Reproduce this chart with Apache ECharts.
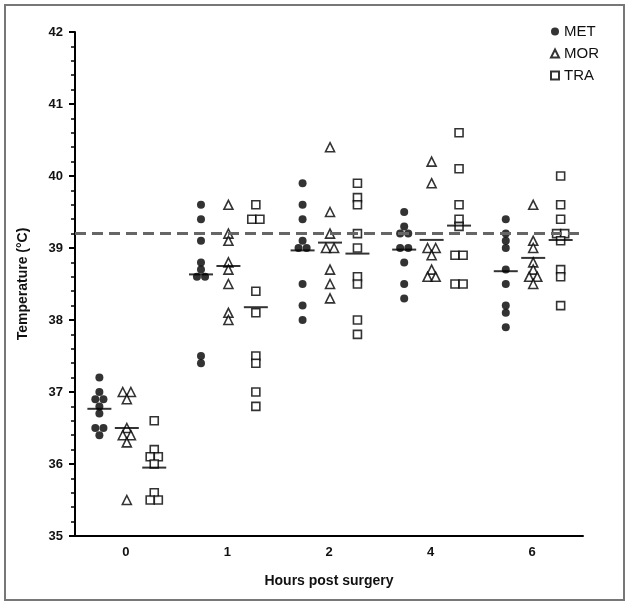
<!DOCTYPE html>
<html><head><meta charset="utf-8">
<script src="https://cdn.jsdelivr.net/npm/echarts@6/dist/echarts.min.js"></script>
<style>html,body{margin:0;padding:0;background:#fff}#c{width:629px;height:605px}</style>
</head><body><div id="c"></div><script>
const categories = ['0', '1', '2', '4', '6'];
const MET = [
  [37.2, 37.0, 36.9, 36.9, 36.8, 36.7, 36.5, 36.5, 36.4],
  [39.6, 39.4, 39.1, 38.8, 38.7, 38.6, 38.6, 37.5, 37.4],
  [39.9, 39.6, 39.4, 39.1, 39.0, 39.0, 38.5, 38.2, 38.0],
  [39.5, 39.3, 39.2, 39.2, 39.0, 39.0, 38.8, 38.5, 38.3],
  [39.4, 39.2, 39.1, 39.0, 38.7, 38.5, 38.2, 38.1, 37.9]
];
const MOR = [
  [37.0, 37.0, 36.9, 36.5, 36.4, 36.4, 36.3, 35.5],
  [39.6, 39.2, 39.1, 38.8, 38.7, 38.5, 38.1, 38.0],
  [40.4, 39.5, 39.2, 39.0, 39.0, 38.7, 38.5, 38.3],
  [40.2, 39.9, 39.0, 39.0, 38.9, 38.7, 38.6, 38.6],
  [39.6, 39.1, 39.0, 38.8, 38.7, 38.6, 38.6, 38.5]
];
const TRA = [
  [36.6, 36.2, 36.1, 36.1, 36.0, 35.6, 35.5, 35.5],
  [39.6, 39.4, 39.4, 38.4, 38.1, 37.5, 37.4, 37.0, 36.8],
  [39.9, 39.7, 39.6, 39.2, 39.0, 38.6, 38.5, 38.0, 37.8],
  [40.6, 40.1, 39.6, 39.4, 39.3, 38.9, 38.9, 38.5, 38.5],
  [40.0, 39.6, 39.4, 39.2, 39.2, 39.1, 38.7, 38.6, 38.2]
];
const referenceLine = 39.2;
const yTicks = [35, 42];

const FONT = 'Liberation Sans, Arial, sans-serif';
const OFF = {MET: -0.26, MOR: 0.01, TRA: 0.28};

function place(groups, offset) {
  const pts = [];
  groups.forEach((vals, gi) => {
    const counts = {}, seen = {};
    vals.forEach(v => counts[v] = (counts[v] || 0) + 1);
    vals.forEach(v => {
      const n = counts[v];
      const i = seen[v] = (seen[v] || 0);
      seen[v]++;
      pts.push([gi + offset + (i - (n - 1) / 2) * 0.08, v]);
    });
  });
  return pts;
}
function means(groups, offset) {
  return groups.map((vals, gi) => [gi + offset, vals.reduce((a, b) => a + b, 0) / vals.length]);
}
const meanStyle = (name, groups) => ({
  name: name + ' mean', type: 'scatter', xAxisIndex: 1, symbol: 'rect', symbolSize: [24, 2],
  itemStyle: {color: '#000'}, z: 5, silent: true, data: means(groups, OFF[name])
});

const chart = echarts.init(document.getElementById('c'));
chart.setOption({
  animation: false,
  backgroundColor: '#fff',
  textStyle: {fontFamily: FONT},
  graphic: [{type: 'rect', shape: {x: 5, y: 5, width: 619, height: 595},
    style: {fill: 'none', stroke: '#777', lineWidth: 2}, silent: true}],
  grid: {left: 75, right: 46, top: 32, bottom: 69},
  legend: {
    data: ['MET', 'MOR', 'TRA'], orient: 'vertical', left: 545, top: 19,
    itemWidth: 8, itemHeight: 8, itemGap: 7,
    textStyle: {fontSize: 15, color: '#111', fontFamily: FONT}
  },
  xAxis: [{
    type: 'category', data: categories, boundaryGap: true,
    axisLine: {onZero: false, lineStyle: {color: '#000', width: 2}},
    axisTick: {alignWithLabel: true, length: 6, lineStyle: {width: 2, color: '#000'}},
    axisLabel: {fontSize: 13, fontWeight: 'bold', color: '#111', margin: 10},
    name: 'Hours post surgery', nameLocation: 'middle', nameGap: 38,
    nameTextStyle: {fontSize: 14, fontWeight: 'bold', color: '#111'}
  }, {
    type: 'value', min: -0.5, max: 4.5, show: false
  }],
  yAxis: {
    type: 'value', min: yTicks[0], max: yTicks[1], interval: 1,
    axisLine: {show: true, onZero: false, lineStyle: {color: '#000', width: 2}},
    axisTick: {show: true, length: 6, lineStyle: {width: 2, color: '#000'}},
    minorTick: {show: true, splitNumber: 5, length: 4, lineStyle: {width: 1.5, color: '#000'}},
    splitLine: {show: false},
    axisLabel: {fontSize: 13, fontWeight: 'bold', color: '#111', margin: 12},
    name: 'Temperature (°C)', nameLocation: 'middle', nameGap: 45,
    nameTextStyle: {fontSize: 14, fontWeight: 'bold', color: '#111'}
  },
  series: [
    {name: 'MET', type: 'scatter', xAxisIndex: 1, symbol: 'circle', symbolSize: 8,
      itemStyle: {color: '#000'}, data: place(MET, OFF.MET),
      markLine: {silent: true, symbol: ['none', 'none'], label: {show: false},
        lineStyle: {color: '#666', type: [11, 6], width: 3}, data: [{yAxis: referenceLine}]}},
    {name: 'MOR', type: 'scatter', xAxisIndex: 1, symbol: 'triangle', symbolSize: 9,
      itemStyle: {color: '#fff', borderColor: '#000', borderWidth: 1.6}, data: place(MOR, OFF.MOR)},
    {name: 'TRA', type: 'scatter', xAxisIndex: 1, symbol: 'rect', symbolSize: 8,
      itemStyle: {color: '#fff', borderColor: '#000', borderWidth: 1.6}, data: place(TRA, OFF.TRA)},
    meanStyle('MET', MET), meanStyle('MOR', MOR), meanStyle('TRA', TRA)
  ]
});
</script></body></html>
